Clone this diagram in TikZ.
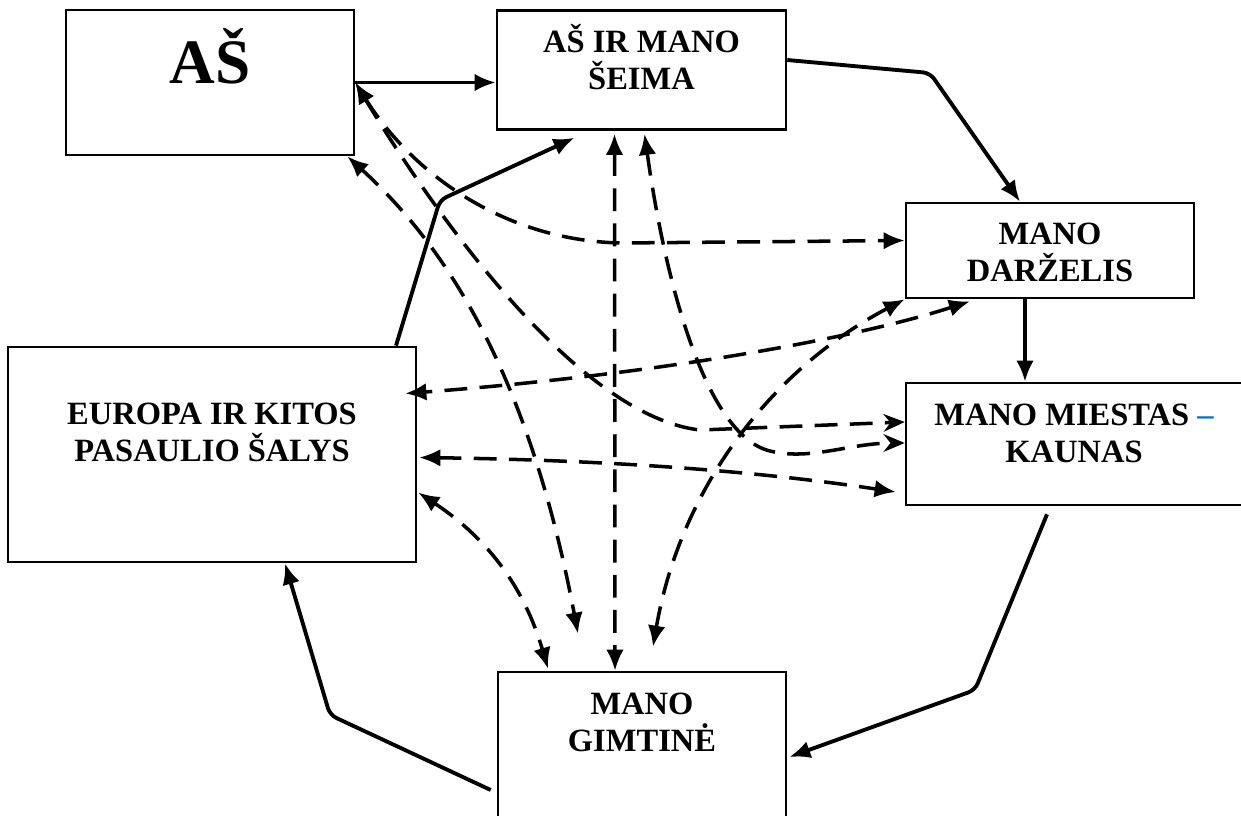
\documentclass[tikz,border=0pt]{standalone}
\usepackage{fontspec}
\setmainfont{Liberation Serif}
\usepackage{tikz}
\usetikzlibrary{arrows.meta}
\usetikzlibrary{calc}
\definecolor{dashblue}{RGB}{0,112,192}
\tikzstyle{topic}=[draw, rectangle, line width=1.5pt, inner sep=0pt, fill=white]
\tikzstyle{title}=[anchor=base, align=center, inner sep=0pt, font=\bfseries\fontsize{18.5}{21}\selectfont]
\tikzstyle{link}=[-{Latex[length=12pt,width=10pt]}, line width=2.2pt, rounded corners=4pt]
\tikzstyle{dlink}=[{Latex[length=12pt,width=10pt]}-{Latex[length=12pt,width=10pt]}, line width=2pt, dash pattern=on 13pt off 7pt]
\tikzstyle{dlinks}=[{Latex[length=12pt,width=10pt]}-{Stealth[length=12pt,width=10pt]}, line width=2pt, dash pattern=on 13pt off 7pt]

\begin{document}
\begin{tikzpicture}[x=0.02cm, y=-0.02cm]
\useasboundingbox (0,0) rectangle (1241,815);

% the six topics
\node[topic, minimum width=5.76cm, minimum height=2.9cm] (as) at (210,82.5) {};
\node[topic, minimum width=5.78cm, minimum height=2.38cm] (seima) at (641.5,70) {};
\node[topic, minimum width=5.76cm, minimum height=1.9cm] (darzelis) at (1050,250.5) {};
\node[topic, minimum width=6.76cm, minimum height=2.44cm] (miestas) at (1075,444) {};
\node[topic, minimum width=8.16cm, minimum height=4.3cm] (europa) at (212,454.5) {};
\node[topic, minimum width=5.76cm, minimum height=2.92cm] (gimtine) at (642,745) {};

% the round trip
\draw[link] (as.east) -- (as.east -| seima.west);
\draw[link] ($(seima.east)+(0,-10)$) -- (930,73) -- ($(darzelis.north)+(-30,0)$);
\draw[link] ($(darzelis.south)+(-25,0)$) -- ($(miestas.north)+(-50,0)$);
\draw[link] ($(miestas.south)+(-28,8)$) -- (975,690) -- ($(gimtine.east)+(2,12)$);
\draw[link] ($(gimtine.west)+(-6,45)$) -- (330,715) -- ($(europa.south)+(73,0)$);
\draw[link] ($(europa.north)+(184,0)$) -- (440,200) -- ($(seima.south)+(-67,7)$);

% cross links
\draw[dlink] (as.east) .. controls (410,170) and (500,240) .. (620,243) -- ($(darzelis.west)+(0,-10)$);
\draw[dlinks] (as.east) .. controls (420,190) and (570,415) .. (700,430) -- ($(miestas.west)+(0,-22)$);
\draw[dlink] ($(as.south east)+(-8,0)$) .. controls (450,250) and (530,380) .. ($(gimtine.north)+(-64,-37)$);
\draw[dlink] ($(seima.south)+(-27,3)$) -- ($(gimtine.north)+(-27,0)$);
\draw[dlinks] ($(seima.south)+(3,3)$) .. controls (665,280) and (705,435) .. (770,451) .. controls (810,461) and (850,443) .. ($(miestas.west)+(0,-1)$);
\draw[dlink] (darzelis.south west) .. controls (770,370) and (680,490) .. ($(gimtine.north)+(11,-24)$);
\draw[dlink] ($(darzelis.south)+(-80,2)$) .. controls (850,340) and (650,375) .. ($(europa.east)+(-12,-61)$);
\draw[dlink] ($(europa.east)+(2,3)$) .. controls (600,460) and (750,470) .. ($(miestas.west)+(-9,48)$);
\draw[dlink] ($(europa.east)+(1,38)$) .. controls (490,540) and (525,590) .. ($(gimtine.north)+(-94,-2)$);

% texts (base = last line)
\node[title, font=\bfseries\fontsize{36}{40}\selectfont] (astxt) at (210,83) {AŠ};
\node[title] (seimatxt) at (641.5,89) {AŠ IR MANO\\ŠEIMA};
\node[title] (darztxt) at (1050,281) {MANO\\DARŽELIS};
\node[title] (miesttxt) at (1074,462) {MANO MIESTAS {\color{dashblue}–}\\KAUNAS};
\node[title] (europtxt) at (212,461) {EUROPA IR KITOS\\PASAULIO ŠALYS};
\node[title] (gimttxt) at (642,751) {MANO\\GIMTINĖ};
\end{tikzpicture}
\end{document}
